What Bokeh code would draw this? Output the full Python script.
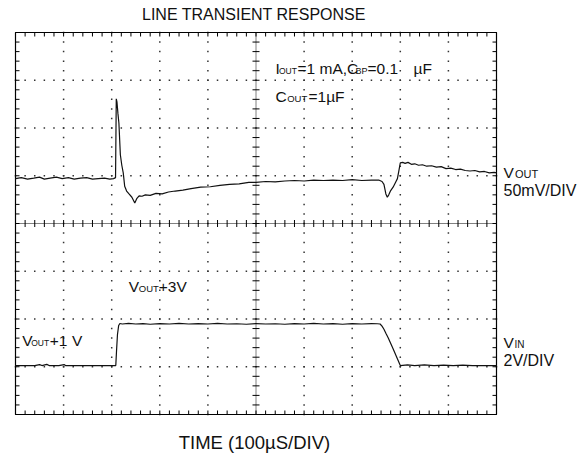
import numpy as np
from bokeh.plotting import figure
from bokeh.models import Range1d
from bokeh.core.properties import value
from bokeh.embed import file_html
from bokeh.resources import INLINE

# ---------------- data ----------------
# VOUT trace: time in microseconds, deviation in mV (50 mV/DIV)
time_vout_us = [0, 12, 25, 38, 50, 60, 72, 85, 97, 110, 122, 135, 148, 160, 172, 185, 196, 204, 208,
                209.5, 211, 213, 215, 218, 221, 224, 227, 231, 236, 242, 248, 252, 257, 263, 270, 280,
                292, 305, 318, 332, 348, 365, 385, 405, 425, 445, 465, 485, 500, 520, 540, 560, 580,
                600, 620, 640, 660, 680, 700, 720, 740, 755, 762, 766, 770, 773, 776, 780, 785, 790,
                794, 797, 800, 805, 810, 816, 823, 830, 838, 846, 855, 865, 875, 885, 895, 905, 915,
                925, 935, 945, 955, 965, 975, 985, 995, 1000]
vout_mv = [0, 1.0, -0.5, 0.5, 1.5, -0.5, 0.5, 1.5, 0, 1, -0.5, 0.5, 1, -0.5, 0, 0.5, -0.5, 0, 1,
           83.5, 80, 68, 58, 25, 14, 6, -8, -13, -16, -19.5, -25.5, -21, -18, -18.5, -17, -17.5,
           -15.5, -16, -14, -13, -12, -10.5, -9, -8.5, -7, -6, -5.5, -4, -4, -3, -3.5, -2.5, -2,
           -2.5, -1.5, -2, -1.5, -2, -1, -2, -1.5, -1.5, -3, -6, -16, -19.5, -17, -12.5, -9, -4,
           0, 8, 16.5, 17, 16, 17, 15, 15.5, 14, 14.5, 13, 13.5, 12, 12.5, 10.5, 11, 9.5,
           10, 8.5, 8, 8.5, 7, 7.5, 6, 6.5, 6]

# VIN trace: time in microseconds, volts (2 V/DIV)
time_vin_us = [0, 20, 40, 50, 55, 65, 70, 90, 101, 104, 120, 150, 180, 200, 208.5, 210, 212, 214.5,
               217, 222, 235, 250, 265, 280, 300, 320, 340, 360, 380, 400, 420, 440, 460, 480, 500,
               520, 540, 560, 580, 600, 620, 640, 660, 680, 700, 720, 740, 752, 758, 762, 766, 770,
               775, 785, 800, 815, 830, 850, 870, 890, 910, 930, 950, 970, 990, 1000]
vin_v = [1.0, 1.0, 1.0, 1.04, 1.0, 1.05, 1.0, 1.0, 1.04, 1.0, 1.0, 1.0, 1.0, 1.0, 1.0, 1.6, 2.3, 2.68,
         2.76, 2.74, 2.77, 2.74, 2.76, 2.73, 2.76, 2.74, 2.77, 2.74, 2.76, 2.74, 2.77, 2.74, 2.75, 2.73,
         2.76, 2.74, 2.75, 2.73, 2.76, 2.74, 2.77, 2.74, 2.76, 2.73, 2.76, 2.74, 2.76, 2.75, 2.74, 2.65,
         2.52, 2.35, 2.15, 1.7, 1.0, 1.03, 1.0, 1.03, 1.0, 1.02, 1.0, 1.02, 1.0, 1.0, 1.0, 1.0]

# screen scaling (divisions)
US_PER_DIV = 100
VOUT_MV_PER_DIV = 50
VOUT_OFFSET_DIV = 0.94
VIN_V_PER_DIV = 2
VIN_OFFSET_DIV = -3.475
X_DIVS = 10
Y_DIVS = 8

# ---------------- layout helpers (pixel position of the graticule on the page) ----------------
W, H = 585, 457
BOX_L, BOX_R, BOX_T, BOX_B = 15.0, 496.0, 32.0, 414.0
PX_PER_US = (BOX_R - BOX_L) / (X_DIVS * US_PER_DIV)
PX_PER_DIV = (BOX_B - BOX_T) / Y_DIVS
CY = (BOX_T + BOX_B) / 2


def px_x(px):
    return (px - BOX_L) / PX_PER_US


def px_y(py):
    return (CY - py) / PX_PER_DIV


p = figure(width=W, height=H, output_backend="svg", toolbar_location=None,
           x_range=Range1d(px_x(0), px_x(W)), y_range=Range1d(px_y(H), px_y(0)),
           x_axis_type=None, y_axis_type=None,
           min_border=0, min_border_left=0, min_border_right=0, min_border_top=0, min_border_bottom=0)
p.outline_line_color = None
p.background_fill_color = "white"
p.border_fill_color = "white"

XMAX = X_DIVS * US_PER_DIV
YMAX = Y_DIVS / 2

x_major = np.array([i * US_PER_DIV for i in range(1, X_DIVS) if i != X_DIVS // 2], dtype=float)
y_major = np.array([j for j in range(-Y_DIVS // 2 + 1, Y_DIVS // 2) if j != 0], dtype=float)
sub_y = np.arange(-YMAX, YMAX + 1e-9, 0.2)
sub_x = np.arange(0, XMAX + 1e-9, US_PER_DIV / 5)

# dotted graticule: a dot at every sub-division along each major line
gx, gy = np.meshgrid(x_major, sub_y)
hx, hy = np.meshgrid(sub_x, y_major)
dot_x = np.concatenate([gx.ravel(), hx.ravel()])
dot_y = np.concatenate([gy.ravel(), hy.ravel()])
p.scatter(dot_x, dot_y, marker="square", size=1.5, fill_color="#333333", line_color=None)

# centre cross lines (fine dotted)
p.segment(x0=[XMAX / 2, 0], y0=[-YMAX, 0], x1=[XMAX / 2, XMAX], y1=[YMAX, 0],
          line_color="black", line_dash="1 1", line_width=1)

# sub-division ticks on the centre lines
tick_kw = dict(marker="dash", line_color="black", line_width=1)
p.scatter(np.full_like(sub_y, XMAX / 2), sub_y, size=7, **tick_kw)
p.scatter(sub_x, np.zeros_like(sub_x), size=7, angle=np.pi / 2, **tick_kw)

# sub-division ticks on the border, pointing inward (4 px)
tx = 4 / PX_PER_US
ty = 4 / PX_PER_DIV
p.segment(x0=np.zeros_like(sub_y), y0=sub_y, x1=np.full_like(sub_y, tx), y1=sub_y, line_color="black")
p.segment(x0=np.full_like(sub_y, XMAX), y0=sub_y, x1=np.full_like(sub_y, XMAX - tx), y1=sub_y,
          line_color="black")
p.segment(x0=sub_x, y0=np.full_like(sub_x, YMAX), x1=sub_x, y1=np.full_like(sub_x, YMAX - ty),
          line_color="black")
p.segment(x0=sub_x, y0=np.full_like(sub_x, -YMAX), x1=sub_x, y1=np.full_like(sub_x, -YMAX + ty),
          line_color="black")

# graticule border
p.quad(left=[0], right=[XMAX], bottom=[-YMAX], top=[YMAX], fill_color=None, line_color="black",
       line_width=1.2)

# traces
vout_div = np.array(vout_mv) / VOUT_MV_PER_DIV + VOUT_OFFSET_DIV
vin_div = np.array(vin_v) / VIN_V_PER_DIV + VIN_OFFSET_DIV
p.line(time_vout_us, vout_div, line_color="#111111", line_width=1.2)
p.line(time_vin_us, vin_div, line_color="#111111", line_width=1.2)

# ---------------- texts ----------------
FONT = "Liberation Sans"
MID_K = 0.34  # distance baseline -> middle of the text, in em


def lab(text, x, baseline, size_px, align="left"):
    yc = baseline - MID_K * size_px
    p.text(x=[px_x(x)], y=[px_y(yc)], text=[text], text_font=value(FONT),
           text_font_size=value(f"{size_px}px"), text_baseline="middle", text_align=align,
           text_color="#111111")


lab("LINE TRANSIENT RESPONSE", 253.5, 19, 16, "center")
lab("TIME (100µS/DIV)", 254, 448.5, 18.5, "center")

# condition annotation
lab("I", 275, 73.5, 15.5)
lab("OUT", 278.5, 73.5, 8.5)
lab("=1 mA,C", 297, 73.5, 15.5)
lab("BP", 355, 73.5, 9)
lab("=0.1", 367, 73.5, 15.5)
lab("µF", 413, 73.5, 15.5)
lab("C", 275, 101, 15.5)
lab("OUT", 286.7, 101, 9.5)
lab("=1µF", 308, 101, 15.5)

# right channel labels
lab("V", 503, 177.3, 15.5)
lab("OUT", 514.5, 177.3, 11)
lab("50mV/DIV", 503, 195, 16)
lab("V", 503, 347.3, 15.5)
lab("IN", 514, 347.3, 10)
lab("2V/DIV", 503, 365, 16)

# level labels
lab("V", 21.7, 345.5, 15.5)
lab("OUT", 30.7, 345.5, 8.5)
lab("+1", 49.3, 345.5, 15.5)
lab("V", 71.5, 345.5, 15.5)
lab("V", 128.3, 291.7, 15.5)
lab("OUT", 138.3, 291.7, 9.5)
lab("+3V", 158.3, 291.7, 15.5)

open("out.html", "w").write(file_html(p, INLINE))
